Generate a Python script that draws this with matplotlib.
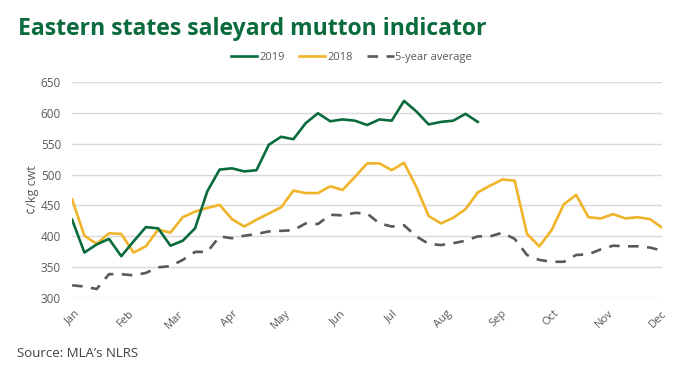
import matplotlib
matplotlib.use("Agg")
import matplotlib.pyplot as plt
import numpy as np

months = ["Jan", "Feb", "Mar", "Apr", "May", "Jun", "Jul", "Aug", "Sep", "Oct", "Nov", "Dec"]
month_days = [0, 31, 59, 90, 120, 151, 181, 212, 243, 273, 304, 334]

y2019 = [427, 374, 387, 396, 368, 392, 415, 413, 385, 393, 413, 473, 508, 510, 505,
         507, 548, 561, 557, 583, 599, 586, 589, 587, 580, 589, 587, 619, 602, 581,
         585, 587, 598, 585]
y2018 = [460, 401, 388, 405, 404, 374, 384, 411, 406, 431, 440, 446, 451, 428, 416,
         427, 437, 447, 474, 470, 470, 481, 475, 496, 518, 518, 507, 519, 480, 433,
         421, 430, 444, 471, 482, 492, 490, 404, 384, 410, 452, 467, 431, 429, 436,
         429, 431, 428, 414]
avg5 = [321, 319, 315, 339, 339, 337, 341, 350, 352, 362, 375, 375, 400, 397, 401,
        404, 408, 409, 410, 421, 420, 435, 434, 438, 437, 421, 416, 418, 400, 388,
        386, 389, 393, 400, 400, 406, 396, 370, 362, 359, 359, 370, 371, 379, 385,
        384, 384, 382, 377]

font = "Open Sans"
plt.rcParams['font.family'] = [font, 'DejaVu Sans']

fig = plt.figure(figsize=(7.0, 3.73), dpi=100)
ax = fig.add_axes([0.103, 0.2003, 0.843, 0.5807])

x19 = np.arange(len(y2019)) * 7
x18 = np.arange(len(y2018)) * 7
xav = np.arange(len(avg5)) * 7

green = "#0a6b3c"
yellow = "#f0b429"
grey = "#595959"

l1, = ax.plot(x19, y2019, color=green, lw=1.9, label="2019", zorder=4)
l2, = ax.plot(x18, y2018, color=yellow, lw=1.9, label="2018", zorder=3)
l3, = ax.plot(xav, avg5, color=grey, lw=1.9, dashes=(4, 3.2), label="5-year average", zorder=2)

ax.set_xlim(0, 336)
ax.set_ylim(300, 650)
ax.set_yticks(np.arange(300, 651, 50))
ax.set_xticks(month_days)
ax.set_xticklabels(months, rotation=45, ha="right", rotation_mode="anchor",
                   fontsize=8, color=grey)
ax.tick_params(axis="y", labelsize=8.5, colors=grey, length=0, pad=8)
ax.tick_params(axis="x", length=0, pad=7)
for lab in ax.get_xticklabels():
    lab.set_transform(lab.get_transform() + matplotlib.transforms.ScaledTranslation(2/100, 0, fig.dpi_scale_trans))
ax.grid(axis="y", color="#d9d9d9", lw=1)
ax.set_axisbelow(True)
for s in ax.spines.values():
    s.set_visible(False)
ax.set_ylabel("¢/kg cwt", fontsize=9, color=grey, labelpad=1)

fig.text(0.026, 1 - 35/373, "Eastern states saleyard mutton indicator", fontsize=16.6,
         fontweight="bold", color=green, ha="left", va="baseline")
fig.legend(handles=[l1, l2, l3], loc="center", bbox_to_anchor=(0.502, 0.845), ncol=3,
           frameon=False, fontsize=8, handlelength=2.4, columnspacing=1.3,
           handletextpad=0.15, labelcolor=grey)
fig.text(0.024, 0.052, "Source: MLA\u2019s NLRS", fontsize=9.5, color="#404040",
         ha="left", va="center")

fig.savefig("out.png", dpi=100)
